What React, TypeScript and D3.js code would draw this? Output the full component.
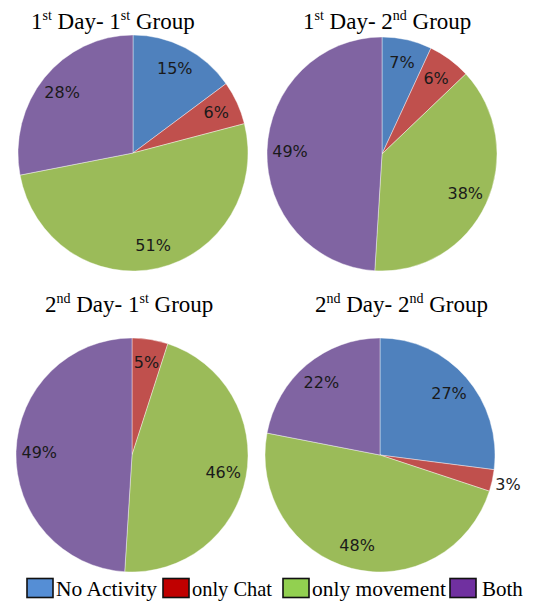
import React from "react";
import * as d3 from "d3";

const categories = ["No Activity", "only Chat", "only movement", "Both"];
const day1Group1 = [15, 6, 51, 28];
const day1Group2 = [7, 6, 38, 49];
const day2Group1 = [0, 5, 46, 49];
const day2Group2 = [27, 3, 48, 22];

const sliceColors = ["#4F81BD", "#C0504D", "#9BBB59", "#8064A2"];
const legendColors = ["#558ED5", "#C00000", "#92D050", "#7030A0"];

type Title = { a: string; as: string; b: string; bs: string };

const panels: {
  values: number[];
  title: Title;
  cx: number;
  cy: number;
  rx: number;
  ry: number;
  tx: number;
  ty: number;
  outside: number[];
}[] = [
  { values: day1Group1, title: { a: "1", as: "st", b: "1", bs: "st" }, cx: 133, cy: 153, rx: 115, ry: 118, tx: 31, ty: 29, outside: [] },
  { values: day1Group2, title: { a: "1", as: "st", b: "2", bs: "nd" }, cx: 382, cy: 154, rx: 115, ry: 117, tx: 303, ty: 29, outside: [] },
  { values: day2Group1, title: { a: "2", as: "nd", b: "1", bs: "st" }, cx: 132, cy: 455, rx: 116, ry: 117, tx: 45, ty: 312, outside: [] },
  { values: day2Group2, title: { a: "2", as: "nd", b: "2", bs: "nd" }, cx: 380, cy: 455, rx: 115, ry: 117, tx: 315, ty: 312, outside: [1] },
];

const serif = "'Liberation Serif', 'Times New Roman', Times, serif";
const sans = "'DejaVu Sans', Verdana, sans-serif";

function Pie({ p }: { p: (typeof panels)[number] }) {
  const pie = d3.pie<number>().sort(null).value((d) => d);
  const arcs = pie(p.values);
  const arc = d3.arc<d3.PieArcDatum<number>>().innerRadius(0).outerRadius(p.rx);
  const sy = p.ry / p.rx;
  return (
    <g>
      <g transform={`translate(${p.cx},${p.cy}) scale(1,${sy})`}>
        {arcs.map((a, i) =>
          a.value > 0 ? (
            <path key={i} d={arc(a) || ""} fill={sliceColors[i]} stroke="#ffffff" strokeWidth={0.4} />
          ) : null
        )}
      </g>
      {arcs.map((a, i) => {
        if (a.value <= 0) return null;
        const mid = (a.startAngle + a.endAngle) / 2;
        const k = p.outside.includes(i) ? 1.14 : 0.8;
        const x = p.cx + Math.sin(mid) * p.rx * k;
        const y = p.cy - Math.cos(mid) * p.ry * k;
        return (
          <text key={`l${i}`} x={x} y={y} textAnchor="middle" dominantBaseline="central" style={{ fontFamily: sans, fontSize: 16 }} fill="#1a1a1a">
            {a.value}%
          </text>
        );
      })}
      <text x={p.tx} y={p.ty} style={{ fontFamily: serif, fontSize: 23 }} fill="#000">
        {p.title.a}
        <tspan style={{ fontSize: 14 }} dy={-9}>{p.title.as}</tspan>
        <tspan dy={9}>{" Day- " + p.title.b}</tspan>
        <tspan style={{ fontSize: 14 }} dy={-9}>{p.title.bs}</tspan>
        <tspan dy={9}>{" Group"}</tspan>
      </text>
    </g>
  );
}

const legendX = [27, 163, 283, 450];
const legendTextWidth = [101, 80, 134, 0];

export default function App() {
  return (
    <svg width={549} height={601} style={{ position: "absolute", left: 0, top: 0, background: "#fff" }}>
      {panels.map((p, i) => (
        <Pie key={i} p={p} />
      ))}
      {categories.map((c, i) => (
        <g key={c}>
          <rect x={legendX[i]} y={578.5} width={26} height={19} fill={legendColors[i]} stroke="#111" strokeWidth={1.6} />
          <text
            x={legendX[i] + (i === 3 ? 32 : 29)}
            y={596}
            style={{ fontFamily: serif, fontSize: 21 }}
            fill="#000"
            {...(legendTextWidth[i] ? { textLength: legendTextWidth[i], lengthAdjust: "spacingAndGlyphs" } : {})}
          >
            {c}
          </text>
        </g>
      ))}
    </svg>
  );
}
